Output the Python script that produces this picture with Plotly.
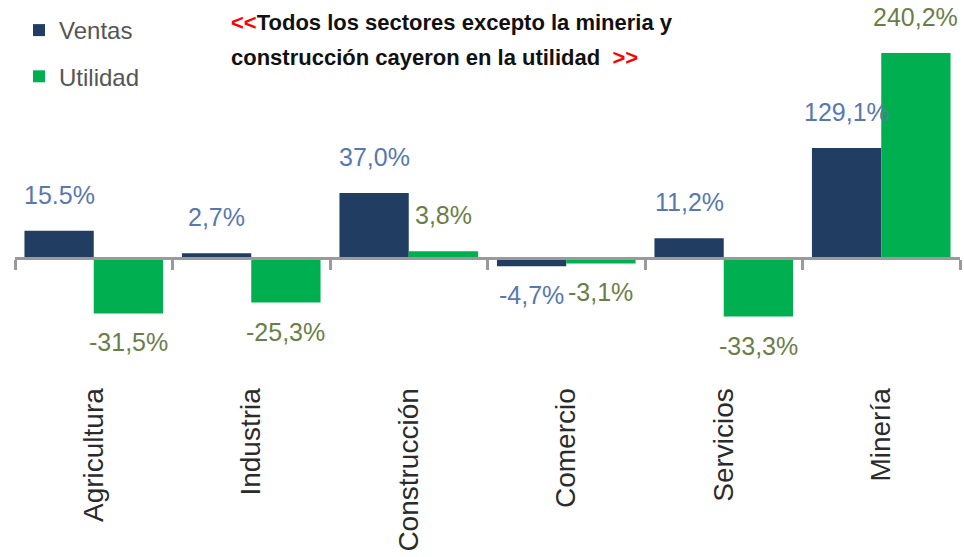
import plotly.graph_objects as go

# ---- data ---------------------------------------------------------------
sectores = ["Agricultura", "Industria", "Construcción", "Comercio", "Servicios", "Minería"]
ventas = [15.5, 2.7, 37.0, -4.7, 11.2, 129.1]
utilidad = [-31.5, -25.3, 3.8, -3.1, -33.3, 240.2]
etiquetas_ventas = ["15.5%", "2,7%", "37,0%", "-4,7%", "11,2%", "129,1%"]
etiquetas_utilidad = ["-31,5%", "-25,3%", "3,8%", "-3,1%", "-33,3%", "240,2%"]
# sectors drawn on the compressed (secondary) scale
escala_comprimida = ["Minería"]

titulo_1 = "Todos los sectores excepto la mineria y"
titulo_2 = "construcción cayeron en la utilidad"

# ---- style --------------------------------------------------------------
AZUL = "#213E62"
VERDE = "#00B050"
TXT_VENTAS = "#5878B0"
TXT_UTILIDAD = "#6C7E48"
EJE = "#9A9A9A"
ROJO = "#FF0000"
SANS = "Liberation Sans, Arial, sans-serif"

W, H = 964, 557
M_L, M_R, M_T, M_B = 15, 4, 5, 177
plot_w = W - M_L - M_R
plot_h = H - M_T - M_B
zero_px = 258                 # vertical pixel of the zero line
px_pct = 1.76                 # pixels per percentage point, main scale
px_pct_2 = 0.853              # pixels per percentage point, compressed scale
above = zero_px - M_T
below = H - M_B - zero_px
y_range = [-below / px_pct, above / px_pct]
y2_range = [-below / px_pct_2, above / px_pct_2]

BARGAP = 0.12
cat_px = plot_w / len(sectores)
half_bar = cat_px * (1 - BARGAP) / 4   # offset from category centre to each bar centre

principal = [i for i, s in enumerate(sectores) if s not in escala_comprimida]
comprimido = [i for i, s in enumerate(sectores) if s in escala_comprimida]


def sel(lst, idx):
    return [lst[i] for i in idx]


def px_x(px):
    return (px - M_L) / plot_w


def px_y(py):
    return (H - M_B - py) / plot_h


fig = go.Figure()
fig.add_bar(x=sel(sectores, principal), y=sel(ventas, principal), name="Ventas",
            marker=dict(color=AZUL, line_width=0), legendgroup="v", yaxis="y")
fig.add_bar(x=sel(sectores, principal), y=sel(utilidad, principal), name="Utilidad",
            marker=dict(color=VERDE, line_width=0), legendgroup="u", yaxis="y")
fig.add_bar(x=sel(sectores, comprimido), y=sel(ventas, comprimido), name="Ventas",
            marker=dict(color=AZUL, line_width=0), legendgroup="v", showlegend=False, yaxis="y2")
fig.add_bar(x=sel(sectores, comprimido), y=sel(utilidad, comprimido), name="Utilidad",
            marker=dict(color=VERDE, line_width=0), legendgroup="u", showlegend=False, yaxis="y2")

# value labels
anns = []
for i, s in enumerate(sectores):
    yref = "y2" if s in escala_comprimida else "y"
    for val, txt, col, dx in ((ventas[i], etiquetas_ventas[i], TXT_VENTAS, -half_bar),
                              (utilidad[i], etiquetas_utilidad[i], TXT_UTILIDAD, half_bar)):
        anns.append(dict(x=s, y=val, xref="x", yref=yref, text=txt, showarrow=False,
                         xshift=dx, yshift=36 if val >= 0 else -29,
                         xanchor="center", yanchor="middle",
                         font=dict(family=SANS, size=25, color=col)))

# two-line headline with red chevrons
anns.append(dict(
    xref="paper", yref="paper", x=px_x(229), y=px_y(22),
    xanchor="left", yanchor="middle", showarrow=False,
    text=f"<b><span style='color:{ROJO}'>&lt;&lt;</span>{titulo_1}</b>",
    font=dict(family=SANS, size=22, color="#111111"),
))
anns.append(dict(
    xref="paper", yref="paper", x=px_x(229), y=px_y(58),
    xanchor="left", yanchor="middle", showarrow=False,
    text=f"<b>{titulo_2}  <span style='color:{ROJO}'>&gt;&gt;</span></b>",
    font=dict(family=SANS, size=22, color="#111111"),
))

fig.update_layout(
    width=W, height=H,
    margin=dict(l=M_L, r=M_R, t=M_T, b=M_B, autoexpand=False),
    paper_bgcolor="white", plot_bgcolor="white",
    barmode="group", bargap=BARGAP, bargroupgap=0,
    hovermode=False,
    showlegend=True,
    legend=dict(x=px_x(19), y=px_y(8),
                xanchor="left", yanchor="top", traceorder="grouped", tracegroupgap=12,
                font=dict(family=SANS, size=24, color="#555555"),
                bgcolor="rgba(0,0,0,0)"),
    xaxis=dict(type="category", categoryorder="array", categoryarray=sectores,
               range=[-0.5, len(sectores) - 0.5],
               anchor="free", position=below / plot_h,
               showline=True, linecolor=EJE, linewidth=3,
               ticks="outside", tickson="boundaries", ticklen=10, tickwidth=3, tickcolor=EJE,
               tickangle=-90, ticklabelstandoff=117,
               tickfont=dict(family=SANS, size=28, color="#2B2B2B"),
               showgrid=False, zeroline=False, automargin=False),
    yaxis=dict(range=y_range, visible=False, showgrid=False, zeroline=False),
    yaxis2=dict(range=y2_range, overlaying="y", visible=False, showgrid=False, zeroline=False),
    annotations=anns,
)

fig.write_html("out.html")
